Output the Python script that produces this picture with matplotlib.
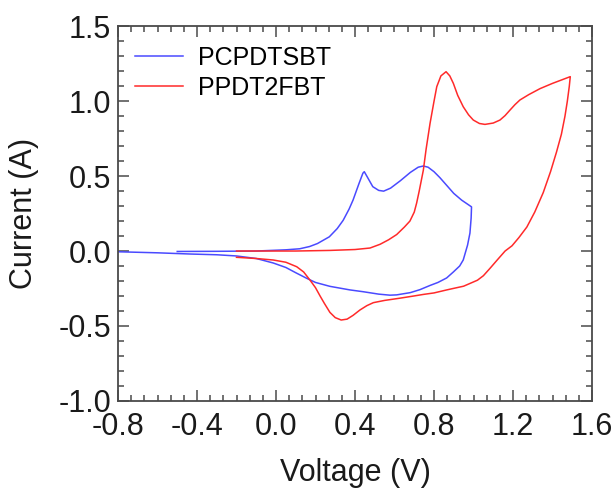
import matplotlib
matplotlib.use("Agg")
import matplotlib.pyplot as plt
from matplotlib.ticker import AutoMinorLocator

plt.rcParams['font.family'] = ['Liberation Sans', 'DejaVu Sans']

# PCPDTSBT cyclic voltammogram (forward scan then reverse scan)
pcpdtsbt_v = [-0.50, -0.30, -0.10, 0.05, 0.12, 0.17, 0.21, 0.27, 0.31, 0.34, 0.37, 0.39,
              0.42, 0.44, 0.447, 0.46, 0.49, 0.52, 0.545, 0.58, 0.63, 0.68, 0.72, 0.746,
              0.77, 0.80, 0.83, 0.87, 0.90, 0.94, 0.99,
              0.988, 0.982, 0.970, 0.948, 0.93, 0.898, 0.864, 0.82, 0.78, 0.729, 0.68,
              0.611, 0.577, 0.52, 0.442, 0.375, 0.273, 0.20, 0.155, 0.10, 0.05, -0.014,
              -0.10, -0.20, -0.30, -0.435, -0.60, -0.80]
pcpdtsbt_i = [-0.003, -0.002, 0.0, 0.008, 0.015, 0.03, 0.05, 0.095, 0.15, 0.205, 0.28, 0.34,
              0.45, 0.52, 0.53, 0.50, 0.43, 0.405, 0.40, 0.42, 0.47, 0.525, 0.56, 0.568,
              0.56, 0.53, 0.49, 0.43, 0.385, 0.34, 0.295,
              0.22, 0.12, 0.04, -0.06, -0.10, -0.14, -0.18, -0.21, -0.23, -0.258, -0.278,
              -0.293, -0.295, -0.288, -0.272, -0.26, -0.236, -0.21, -0.182, -0.145, -0.11, -0.08,
              -0.05, -0.033, -0.025, -0.02, -0.012, -0.005]

# PPDT2FBT cyclic voltammogram
ppdt2fbt_v = [-0.20, 0.10, 0.273, 0.40, 0.476, 0.527, 0.57, 0.611, 0.65, 0.678, 0.70, 0.712,
              0.725, 0.737, 0.746, 0.76, 0.78, 0.80, 0.814, 0.835, 0.861, 0.88, 0.898, 0.92,
              0.948, 0.975, 0.999, 1.03, 1.058, 1.10, 1.134, 1.16, 1.185, 1.21, 1.235, 1.28,
              1.337, 1.40, 1.45, 1.49,
              1.485, 1.475, 1.463, 1.445, 1.42, 1.39, 1.353, 1.31, 1.27, 1.23, 1.195, 1.16,
              1.12, 1.084, 1.05, 1.02, 0.999, 0.95, 0.898, 0.864, 0.80, 0.746, 0.70, 0.628,
              0.55, 0.493, 0.46, 0.425, 0.39, 0.36, 0.33, 0.30, 0.273, 0.245, 0.223, 0.20,
              0.172, 0.14, 0.105, 0.05, -0.014, -0.10, -0.20]
ppdt2fbt_i = [0.0, 0.0, 0.004, 0.01, 0.02, 0.045, 0.075, 0.11, 0.16, 0.20, 0.26, 0.32,
              0.40, 0.48, 0.54, 0.68, 0.853, 1.0, 1.098, 1.17, 1.198, 1.17, 1.12, 1.04,
              0.964, 0.91, 0.875, 0.852, 0.846, 0.855, 0.875, 0.905, 0.942, 0.978, 1.009, 1.045,
              1.085, 1.12, 1.145, 1.165,
              1.10, 1.00, 0.90, 0.78, 0.66, 0.53, 0.39, 0.26, 0.16, 0.09, 0.035, 0.0,
              -0.06, -0.115, -0.165, -0.195, -0.207, -0.235, -0.25, -0.26, -0.28, -0.29, -0.30, -0.315,
              -0.33, -0.345, -0.365, -0.394, -0.43, -0.455, -0.461, -0.445, -0.41, -0.35, -0.30, -0.245,
              -0.194, -0.14, -0.105, -0.075, -0.06, -0.05, -0.042]

labels = ['PCPDTSBT', 'PPDT2FBT']
x_ticks = [-0.8, -0.4, 0.0, 0.4, 0.8, 1.2, 1.6]
y_ticks = [-1.0, -0.5, 0.0, 0.5, 1.0, 1.5]

fig = plt.figure(figsize=(6.14, 4.90), dpi=100)
ax = fig.add_axes([118/614, 1 - 400.7/490, 474/614, 374.2/490])

ax.plot(pcpdtsbt_v, pcpdtsbt_i, color='#4a4aff', lw=1.1, label=labels[0])
ax.plot(ppdt2fbt_v, ppdt2fbt_i, color='#ff2a2a', lw=1.1, label=labels[1])

ax.set_xlim(-0.8, 1.6)
ax.set_ylim(-1.0, 1.5)
ax.set_xticks(x_ticks)
ax.set_yticks(y_ticks)
ax.set_xticklabels([f'{v:.1f}' for v in x_ticks])
ax.set_yticklabels([f'{v:.1f}' for v in y_ticks])
ax.xaxis.set_minor_locator(AutoMinorLocator(6))
ax.yaxis.set_minor_locator(AutoMinorLocator(5))

spine_color = '#4a4a4a'
for s in ax.spines.values():
    s.set_color(spine_color)
    s.set_linewidth(1.3)
ax.tick_params(which='both', direction='in', top=True, right=True, color=spine_color,
               width=1.1, labelsize=22, labelcolor='#1a1a1a')
ax.tick_params(which='major', length=8)
ax.tick_params(which='minor', length=4)
ax.tick_params(axis='x', which='major', pad=8)
ax.tick_params(axis='y', which='major', pad=5)

ax.set_xlabel('Voltage (V)', fontsize=22, color='#1a1a1a', va='center')
ax.set_ylabel('Current (A)', fontsize=22, color='#1a1a1a', va='center')
ax.xaxis.set_label_coords(0.5, -0.193)
ax.yaxis.set_label_coords(-0.1975, 0.5)

ax.legend(loc='upper left', bbox_to_anchor=(0.036, 0.949), frameon=False, fontsize=18,
          handlelength=1.9, handletextpad=0.6, borderpad=0, borderaxespad=0,
          labelspacing=0.26)

fig.savefig('out.png', dpi=100)
